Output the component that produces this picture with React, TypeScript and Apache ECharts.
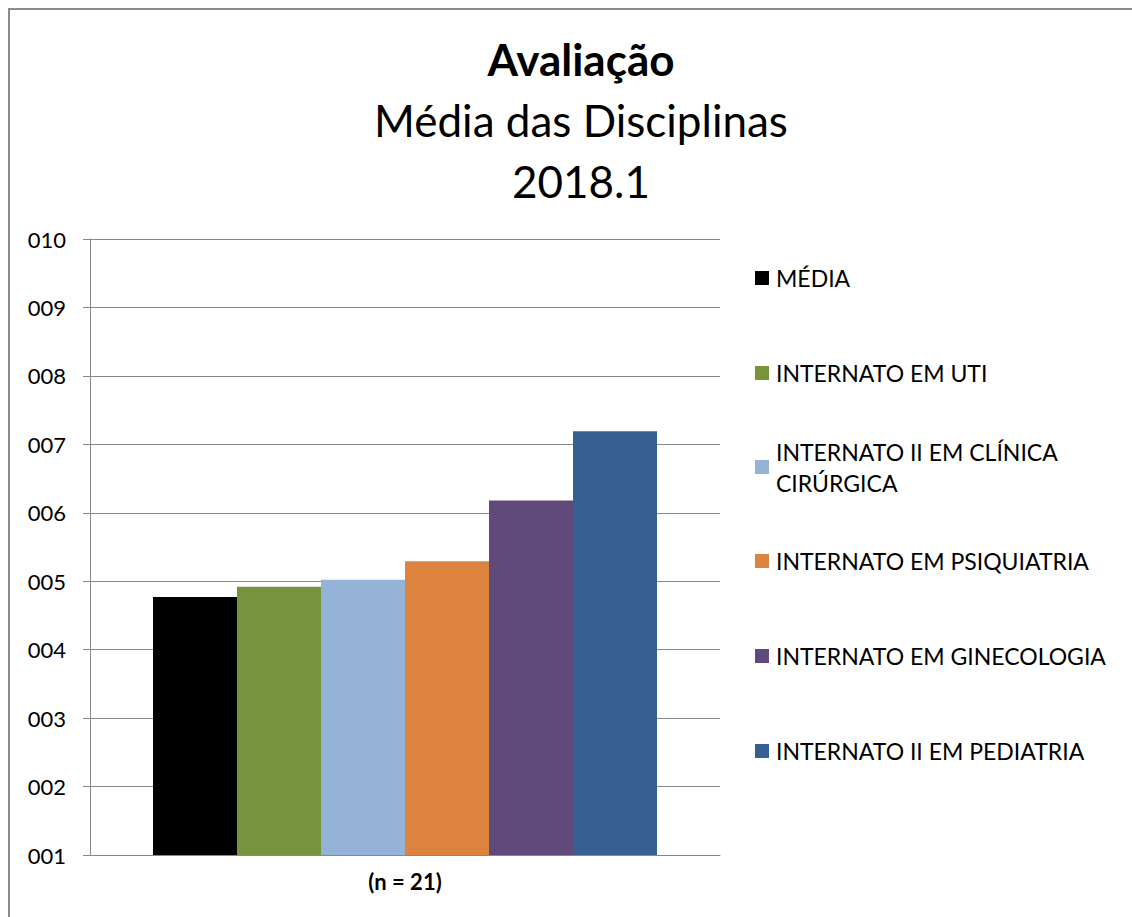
import React, { useEffect, useRef } from "react";
import * as echarts from "echarts";

const categories = ["(n = 21)"];
const seriesNames = [
  "MÉDIA",
  "INTERNATO EM UTI",
  "INTERNATO II EM CLÍNICA CIRÚRGICA",
  "INTERNATO EM PSIQUIATRIA",
  "INTERNATO EM GINECOLOGIA",
  "INTERNATO II EM PEDIATRIA",
];
const seriesValues = [4.77, 4.92, 5.02, 5.29, 6.18, 7.19];
const seriesColors = ["#000000", "#77933C", "#95B3D7", "#DC843F", "#604A7B", "#376092"];
const yMin = 1;
const yMax = 10;
const yInterval = 1;
const titleLines = ["Avaliação", "Média das Disciplinas", "2018.1"];

const FONT = "Lato";
const legendCenters = [278, 373, 467, 561, 656, 751];

export default function App() {
  const ref = useRef<HTMLDivElement>(null);
  useEffect(() => {
    if (!ref.current) return;
    const chart = echarts.init(ref.current, null, { renderer: "svg" });
    const legends = seriesNames.map((name, i) => {
      const wrapped = name === "INTERNATO II EM CLÍNICA CIRÚRGICA";
      return {
        data: [name],
        orient: "vertical",
        left: 755,
        top: wrapped ? legendCenters[i] - 46 : legendCenters[i] - 14,
        padding: 0,
        icon: "rect",
        itemWidth: 14,
        itemHeight: 14,
        selectedMode: false,
        formatter: (n: string) =>
          n === "INTERNATO II EM CLÍNICA CIRÚRGICA" ? "INTERNATO II EM CLÍNICA\nCIRÚRGICA" : n,
        textStyle: {
          fontFamily: FONT,
          fontSize: 23,
          color: "#000",
          lineHeight: wrapped ? 31 : 28,
          padding: wrapped ? [30, 0, 0, 2] : [0, 0, 0, 2],
        },
      };
    });
    chart.setOption({
      animation: false,
      backgroundColor: "#ffffff",
      title: {
        text: `{a|${titleLines[0]}}\n{b|${titleLines[1]}}\n{b|${titleLines[2]}}`,
        left: 576,
        top: 23,
        textAlign: "center",
        textStyle: {
          rich: {
            a: { fontFamily: FONT, fontSize: 44, fontWeight: "bold", color: "#000", lineHeight: 61 },
            b: { fontFamily: FONT, fontSize: 44, fontWeight: "normal", color: "#000", lineHeight: 61 },
          },
        },
      },
      legend: legends,
      grid: { left: 90, right: 412, top: 239, bottom: 62, containLabel: false },
      xAxis: {
        type: "category",
        data: categories,
        axisLine: { show: true, lineStyle: { color: "#888888", width: 1 } },
        axisTick: { show: false },
        axisLabel: { fontFamily: FONT, fontSize: 22, fontWeight: "bold", color: "#000", margin: 15 },
      },
      yAxis: {
        type: "value",
        min: yMin,
        max: yMax,
        interval: yInterval,
        axisLine: { show: true, lineStyle: { color: "#888888", width: 1 } },
        axisTick: { show: true, length: 7, inside: false, lineStyle: { color: "#888888" } },
        splitLine: { show: true, lineStyle: { color: "#888888", width: 1 } },
        axisLabel: {
          fontFamily: FONT,
          fontSize: 22,
          color: "#000",
          margin: 24,
          formatter: (v: number) => String(v).padStart(3, "0"),
        },
      },
      series: seriesNames.map((name, i) => ({
        type: "bar",
        name,
        data: [seriesValues[i]],
        itemStyle: { color: seriesColors[i] },
        barGap: "0%",
        barCategoryGap: "20%",
      })),
      graphic: [
        { type: "line", shape: { x1: 8, y1: 9, x2: 1132, y2: 9 }, style: { stroke: "#8c8c8c", lineWidth: 2 } },
        { type: "line", shape: { x1: 9, y1: 8, x2: 9, y2: 917 }, style: { stroke: "#8c8c8c", lineWidth: 2 } },
      ],
    });
    return () => chart.dispose();
  }, []);
  return (
    <div
      ref={ref}
      style={{ position: "fixed", left: 0, top: 0, width: 1132, height: 917, background: "#fff" }}
    />
  );
}
